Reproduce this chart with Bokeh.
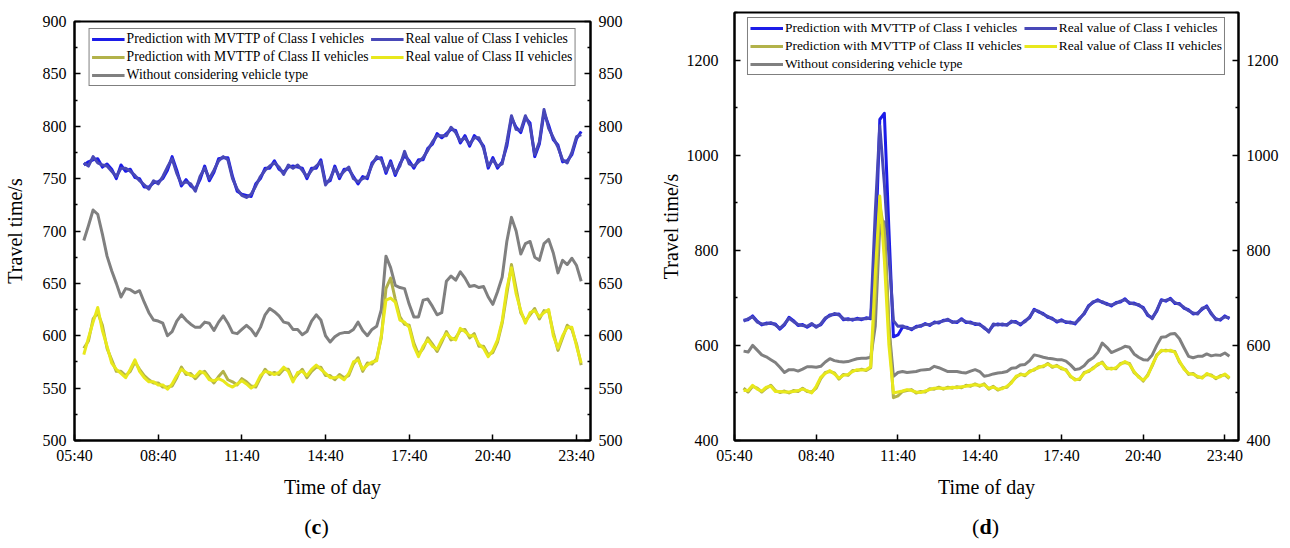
from bokeh.plotting import figure
from bokeh.models import Legend, LegendItem, LinearAxis, FixedTicker, Range1d, Div
from bokeh.layouts import row, column
from bokeh.embed import file_html
from bokeh.resources import INLINE

# ---------------- data ----------------
START_MIN = 360   # 06:00
STEP_MIN = 10
TICK_LABELS = ["05:40", "08:40", "11:40", "14:40", "17:40", "20:40", "23:40"]
LEGEND_LABELS = ["Prediction with MVTTP of Class I vehicles",
                 "Real value of Class I vehicles",
                 "Prediction with MVTTP of Class II vehicles",
                 "Real value of Class II vehicles",
                 "Without considering vehicle type"]

# (c) panel
c_pred1 = [763,766,768,769,761,764,759,750,763,757,759,751,750,742,742,746,747,750,758,771,758,743,749,743,740,749,762,748,756,769,770,770,752,738,735,
           734,733,745,750,760,760,767,759,756,761,762,761,760,750,760,760,768,746,748,762,750,759,759,752,745,752,750,765,769,770,755,767,753,764,772,767,760,768,
           768,779,783,793,789,793,797,796,784,791,781,791,787,781,760,770,760,766,781,808,799,794,808,803,771,783,813,801,787,782,766,767,773,788,795]
c_real1 = [765,762,771,765,763,762,757,752,760,760,757,753,748,744,740,748,745,752,761,769,755,745,747,745,738,752,760,750,758,767,771,768,750,740,734,
           732,735,743,752,758,762,765,761,754,763,760,763,758,752,758,762,766,744,750,760,752,757,761,750,747,750,752,763,771,768,757,765,755,762,776,764,762,766,
           770,777,785,791,791,791,799,794,786,789,783,789,789,779,762,768,762,764,785,810,797,796,810,800,773,785,816,798,789,780,768,765,775,790,792]
c_pred2 = [588,595,616,622,610,588,577,566,566,562,566,575,568,562,558,555,555,551,551,552,560,570,563,564,559,564,566,560,555,561,566,558,556,553,559,
           556,552,551,560,568,563,565,563,568,568,558,563,568,560,566,570,570,562,562,558,563,560,562,573,579,566,574,573,578,598,645,655,635,618,611,610,593,582,
           588,598,592,585,594,604,596,598,605,606,598,602,590,590,582,584,594,612,640,668,645,622,614,620,626,616,624,623,603,586,598,610,606,592,572]
c_real2 = [582,598,613,627,605,590,574,568,564,560,568,577,566,560,556,556,553,553,549,554,562,568,565,562,561,566,564,558,557,559,557,553,551,554,557,
           554,550,553,562,566,565,563,565,570,566,556,565,566,562,568,572,568,564,560,560,561,558,564,575,577,568,572,575,576,600,634,636,632,615,613,608,590,580,
           590,596,590,587,596,602,598,596,607,604,600,600,592,588,580,586,596,614,645,665,640,624,612,622,624,618,622,625,600,588,600,608,608,590,574]
c_without = [691,705,720,716,697,676,662,650,637,645,644,641,643,632,622,615,614,612,600,604,614,620,615,611,608,608,613,612,605,613,619,612,603,602,606,
             610,606,600,608,620,626,623,619,613,612,606,606,601,604,614,620,615,600,594,599,602,603,603,606,613,605,600,606,609,625,676,665,648,646,645,630,618,618,
             634,635,628,620,622,652,657,653,661,655,647,648,646,647,637,630,642,656,690,713,700,678,688,690,675,672,688,692,679,660,672,668,674,667,652]

# (d) panel
d_pred1 = [653,654,662,651,643,647,646,645,634,643,659,652,642,644,638,644,640,643,656,664,665,666,654,656,653,657,654,658,656,
           790,1075,1088,845,618,
           622,638,638,633,640,640,646,642,649,647,653,653,650,648,656,648,649,644,645,636,630,642,645,643,644,649,650,643,652,658,676,670,667,659,657,649,654,648,649,645,
           657,666,684,690,696,690,688,683,690,691,698,688,689,684,680,663,658,672,696,693,699,688,688,678,675,666,668,676,683,666,656,653,662,656]
d_real1 = [651,656,660,649,645,645,648,643,636,645,657,650,644,642,640,646,638,645,658,662,667,664,656,654,655,655,656,656,658,
           880,1062,940,790,652,
           640,641,636,635,638,642,644,644,647,649,651,655,648,650,654,650,647,646,643,638,628,645,643,645,642,651,648,645,650,660,674,672,665,661,655,651,652,650,647,647,
           655,668,682,692,694,692,686,685,688,693,696,690,687,686,678,665,656,674,694,695,697,690,686,680,673,668,666,678,681,668,654,655,660,658]
d_pred2 = [510,502,514,510,502,510,516,505,501,504,500,505,503,510,503,502,510,530,543,545,542,529,539,537,547,547,550,547,553,
           700,895,840,640,490,
           494,503,505,507,500,503,502,509,508,512,508,512,510,513,511,516,514,519,514,519,508,514,506,511,512,523,533,540,536,546,548,555,555,562,554,558,551,549,534,529,
           528,543,545,553,559,565,551,552,551,562,564,562,543,535,525,538,557,580,588,590,588,587,565,552,539,541,533,533,539,538,530,536,538,530]
d_real2 = [505,505,516,508,504,512,514,503,503,502,502,503,505,508,505,500,514,533,541,547,540,531,537,539,545,549,548,549,555,
           750,914,780,601,500,
           502,504,507,505,502,501,504,507,510,510,510,510,512,511,513,514,516,517,516,517,510,512,508,509,514,521,535,538,538,544,550,553,557,560,556,556,553,547,536,527,
           530,541,547,551,561,563,553,550,553,560,566,560,545,533,527,536,559,578,590,588,590,585,567,550,541,539,535,531,541,536,532,534,540,532]
d_without = [588,586,600,590,580,576,570,564,554,543,549,549,546,550,555,555,554,556,565,572,568,566,565,566,569,572,573,573,575,
             640,850,860,640,535,
             543,545,543,544,545,548,549,550,556,553,549,545,545,545,543,542,546,549,545,535,537,540,542,543,545,552,553,559,560,568,580,578,575,573,572,570,570,567,559,549,
             551,557,568,574,585,605,596,585,589,593,598,596,582,575,570,569,580,600,617,618,624,625,614,595,577,574,577,577,582,578,580,579,584,577]

# ---------------- styling ----------------
COLORS = ["#1c1ce8", "#4848b8", "#b2b24a", "#e8e81c", "#808080"]
FONT = "Liberation Serif"


def to_min(s):
    h, m = s.split(":")
    return int(h) * 60 + int(m)


tick_pos = [to_min(s) for s in TICK_LABELS]
overrides = {tp: lab for tp, lab in zip(tick_pos, TICK_LABELS)}


def style_axis(ax, size="16px"):
    ax.axis_line_color = "black"
    ax.axis_line_width = 2
    ax.major_tick_line_color = "black"
    ax.major_tick_line_width = 1.5
    ax.minor_tick_line_color = "black"
    ax.minor_tick_line_width = 1.5
    ax.major_tick_in = 6
    ax.major_tick_out = 0
    ax.minor_tick_in = 3
    ax.minor_tick_out = 0
    ax.major_label_text_font = FONT
    ax.major_label_text_font_size = size
    ax.major_label_text_color = "black"
    ax.axis_label_text_font = FONT
    ax.axis_label_text_font_size = "20px"
    ax.axis_label_text_font_style = "normal"
    ax.axis_label_text_color = "black"


def make_panel(series, y0, y1, major, minor, border_left, border_right, border_top, width,
               label_standoff, title_standoff, legend_font, legend_margin):
    height = 510
    p = figure(width=width, height=height, output_backend="svg", toolbar_location=None,
               x_range=Range1d(340, 1450), y_range=Range1d(y0, y1),
               min_border_left=border_left, min_border_right=border_right,
               min_border_top=border_top, min_border_bottom=height - 440)
    p.xgrid.visible = False
    p.ygrid.visible = False
    p.outline_line_color = "black"
    p.outline_line_width = 2
    p.background_fill_color = "white"
    p.border_fill_color = "white"

    times = [START_MIN + STEP_MIN * i for i in range(len(series[0]))]
    renderers = [None] * len(series)
    # gray baseline series drawn first (underneath), then the class series
    for idx in [4, 0, 1, 2, 3]:
        renderers[idx] = p.line(times, series[idx], line_color=COLORS[idx], line_width=3,
                                line_join="round")

    # axes
    p.xaxis.ticker = FixedTicker(ticks=tick_pos)
    p.xaxis.major_label_overrides = overrides
    p.xaxis.axis_label = "Time of day"
    style_axis(p.xaxis[0])
    p.xaxis.axis_label_standoff = 9
    p.xaxis.major_label_standoff = 6

    p.yaxis.ticker = FixedTicker(ticks=major, minor_ticks=minor)
    p.yaxis.axis_label = "Travel time/s"
    style_axis(p.yaxis[0])
    p.yaxis.major_label_standoff = label_standoff
    p.yaxis.axis_label_standoff = title_standoff

    ra = LinearAxis(ticker=FixedTicker(ticks=major, minor_ticks=minor))
    style_axis(ra)
    ra.major_label_standoff = 8
    p.add_layout(ra, "right")

    # legend grid is filled column by column (3 rows)
    order = [0, 2, 4, 1, 3]
    items = [LegendItem(label=LEGEND_LABELS[i], renderers=[renderers[i]]) for i in order]
    leg = Legend(items=items, ncols=2, location="top_center")
    leg.label_text_font = FONT
    leg.label_text_font_size = legend_font
    leg.label_text_color = "black"
    leg.glyph_width = 33
    leg.glyph_height = 16
    leg.label_height = 16
    leg.label_standoff = 2
    leg.padding = 2
    leg.spacing = 2
    leg.margin = legend_margin
    leg.border_line_color = "black"
    leg.border_line_width = 1
    leg.background_fill_alpha = 1.0
    p.add_layout(leg)
    return p


def caption(letter, width, pad_left, pad_right):
    return Div(text="(<b>%s</b>)" % letter, width=width, height=38, margin=0,
               styles={"font-family": FONT, "font-size": "22px", "text-align": "center",
                       "line-height": "1", "padding-top": "6px",
                       "padding-left": "%dpx" % pad_left, "padding-right": "%dpx" % pad_right,
                       "box-sizing": "border-box", "color": "black"})


W_L = 645
W_R = 645
p1 = make_panel([c_pred1, c_real1, c_pred2, c_real2, c_without], 500, 900,
                [500, 550, 600, 650, 700, 750, 800, 850, 900],
                [525, 575, 625, 675, 725, 775, 825, 875],
                72, 55, 21, W_L, 8, 14, "13.7px", 7)
p2 = make_panel([d_pred1, d_real1, d_pred2, d_real2, d_without], 400, 1300,
                [400, 600, 800, 1000, 1200],
                [500, 700, 900, 1100, 1300],
                89, 52, 12, W_R, 16, 2, "13.4px", 5)

layout = row(column(p1, caption("c", W_L, 0, 12)), column(p2, caption("d", W_R, 36, 0)))
open("out.html", "w").write(file_html(layout, INLINE))
